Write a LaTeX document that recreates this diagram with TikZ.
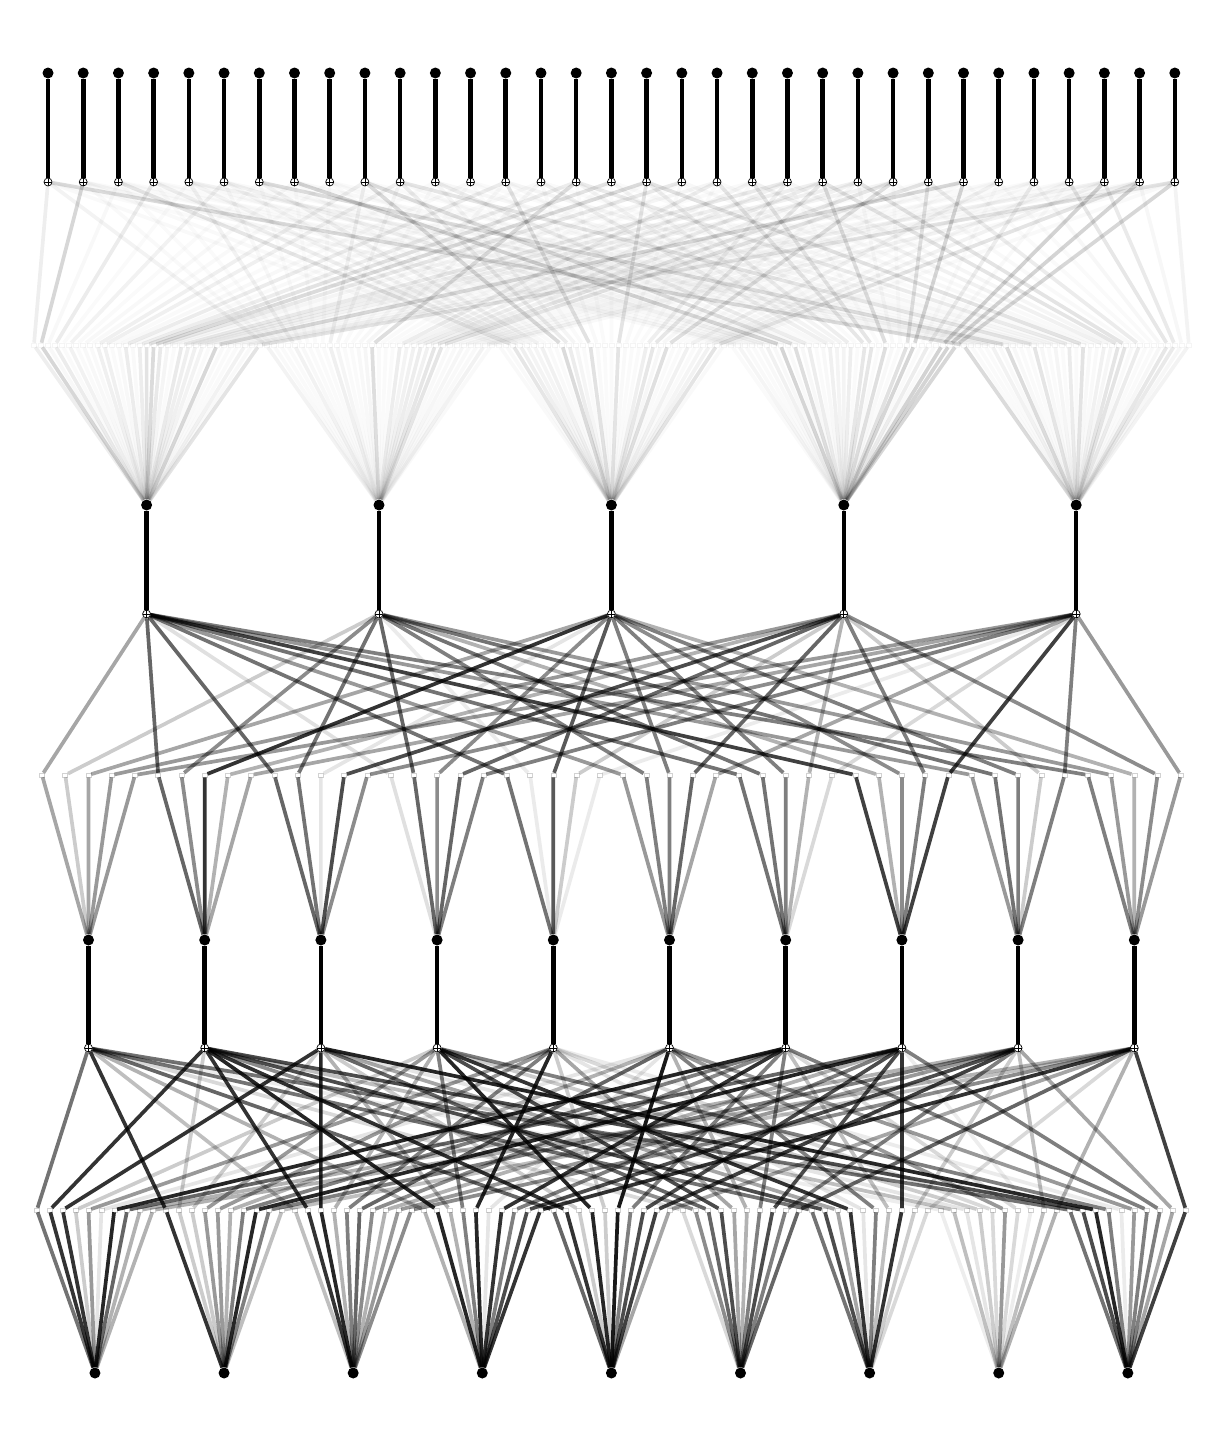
\documentclass[tikz,border=0pt]{standalone}
\usepackage{xcolor}
\usepackage{tikz}
\usetikzlibrary{positioning,calc}

\begin{document}
\begin{tikzpicture}[x=0.2mm, y=-0.2mm,
        dotnode/.style={circle, fill=black, inner sep=0pt, minimum size=2.2mm},
        sumnode/.style={circle, draw=black, fill=white, line width=0.4pt, inner sep=0pt, minimum size=1.6mm,
            path picture={\draw[line width=0.4pt] (path picture bounding box.north) -- (path picture bounding box.south)
                (path picture bounding box.west) -- (path picture bounding box.east);}},
        actbox/.style={rectangle, draw=gray!35, fill=white, line width=0.3pt, inner sep=0pt, minimum width=1mm, minimum height=0.8mm},
        stem/.style={line width=2.6pt, draw=black},
        link/.style={line width=2.1pt, draw=black}
    ]

    \def\plft{30.4} % left edge of the plot
    \def\pwid{1162} % width of the plot

    \useasboundingbox (0,0) rectangle (1222,1446);

    % Input row (33)
    \foreach \i in {0,...,32} {
        \pgfmathsetmacro\xx{\plft+\pwid/33*(\i+0.5)}
        \node[dotnode] (x0-\i) at (\xx, 73) {};
        \node[sumnode] (s0-\i) at (\xx, 182) {};
        \draw[stem] (x0-\i) -- (s0-\i);
    }

    % Hidden row 1 (5)
    \foreach \j in {0,...,4} {
        \pgfmathsetmacro\xx{\plft+\pwid/5*(\j+0.5)}
        \node[dotnode] (n1-\j) at (\xx, 505) {};
        \node[sumnode] (s1-\j) at (\xx, 614) {};
        \draw[stem] (n1-\j) -- (s1-\j);
    }

    % Hidden row 2 (10)
    \foreach \j in {0,...,9} {
        \pgfmathsetmacro\xx{\plft+\pwid/10*(\j+0.5)}
        \node[dotnode] (n2-\j) at (\xx, 940) {};
        \node[sumnode] (s2-\j) at (\xx, 1048) {};
        \draw[stem] (n2-\j) -- (s2-\j);
    }

    % Output row (9)
    \foreach \j in {0,...,8} {
        \pgfmathsetmacro\xx{\plft+\pwid/9*(\j+0.5)}
        \node[dotnode] (n3-\j) at (\xx, 1373) {};
    }

    % Activation boxes
    \foreach \k in {0,...,164} {
        \pgfmathsetmacro\xx{\plft+\pwid/165*(\k+0.5)}
        \node[actbox, draw=gray!8] (a1-\k) at (\xx, 345) {};
    }
    \foreach \k in {0,...,49} {
        \pgfmathsetmacro\xx{\plft+\pwid/50*(\k+0.5)}
        \node[actbox] (a2-\k) at (\xx, 775) {};
    }
    \foreach \k in {0,...,89} {
        \pgfmathsetmacro\xx{\plft+\pwid/90*(\k+0.5)}
        \node[actbox] (a3-\k) at (\xx, 1210) {};
    }

    % Layer 1: 33 -> 5
    \pgfmathsetseed{11}
    \foreach \j in {0,...,4} {
        \foreach \i in {0,...,32} {
            \pgfmathtruncatemacro\k{\j*33+\i}
            \pgfmathsetmacro\r{rnd}
            \pgfmathsetmacro\o{0.02+0.16*\r*\r*\r}
            \draw[link, draw opacity=\o] (s0-\i) -- (a1-\k) -- (n1-\j);
        }
    }

    % Layer 2: 5 -> 10
    \foreach \o [count=\c from 0] in {.35,.2,.35,.4,.4, .6,.45,.8,.3,.35, .6,.55,.1,.7,.45, .12,.6,.45,.6,.5,
            .55,.08,.65,.2,.08, .4,.5,.5,.6,.35, .55,.55,.5,.3,.15, .75,.3,.45,.5,.75,
            .4,.55,.5,.2,.5, .5,.4,.3,.45,.4} {
        \pgfmathtruncatemacro\j{floor(\c/5)}
        \pgfmathtruncatemacro\i{\c-5*\j}
        \draw[link, draw opacity=\o] (s1-\i) -- (a2-\c) -- (n2-\j);
    }

    % Layer 3: 10 -> 9
    \foreach \o [count=\c from 0] in {.55,.8,.8,.2,.4,.1,.85,.6,.3,.3,
            .8,.2,.2,.4,.4,.3,.5,.85,.5,.25,
            .25,.8,.85,.3,.5,.6,.45,.3,.4,.45,
            .3,.85,.3,.5,.85,.1,.8,.5,.7,.8,
            .6,.8,.2,.85,.2,.9,.5,.7,.75,.35,
            .15,.45,.6,.7,.35,.3,.5,.7,.5,.6,
            .55,.7,.35,.8,.1,.5,.25,.8,.2,.15,
            .07,.25,.1,.2,.15,.4,.15,.07,.25,.3,
            .55,.7,.85,.5,.08,.4,.5,.5,.35,.75} {
        \pgfmathtruncatemacro\j{floor(\c/10)}
        \pgfmathtruncatemacro\i{\c-10*\j}
        \draw[link, draw opacity=\o] (s2-\i) -- (a3-\c) -- (n3-\j);
    }

\end{tikzpicture}
\end{document}
